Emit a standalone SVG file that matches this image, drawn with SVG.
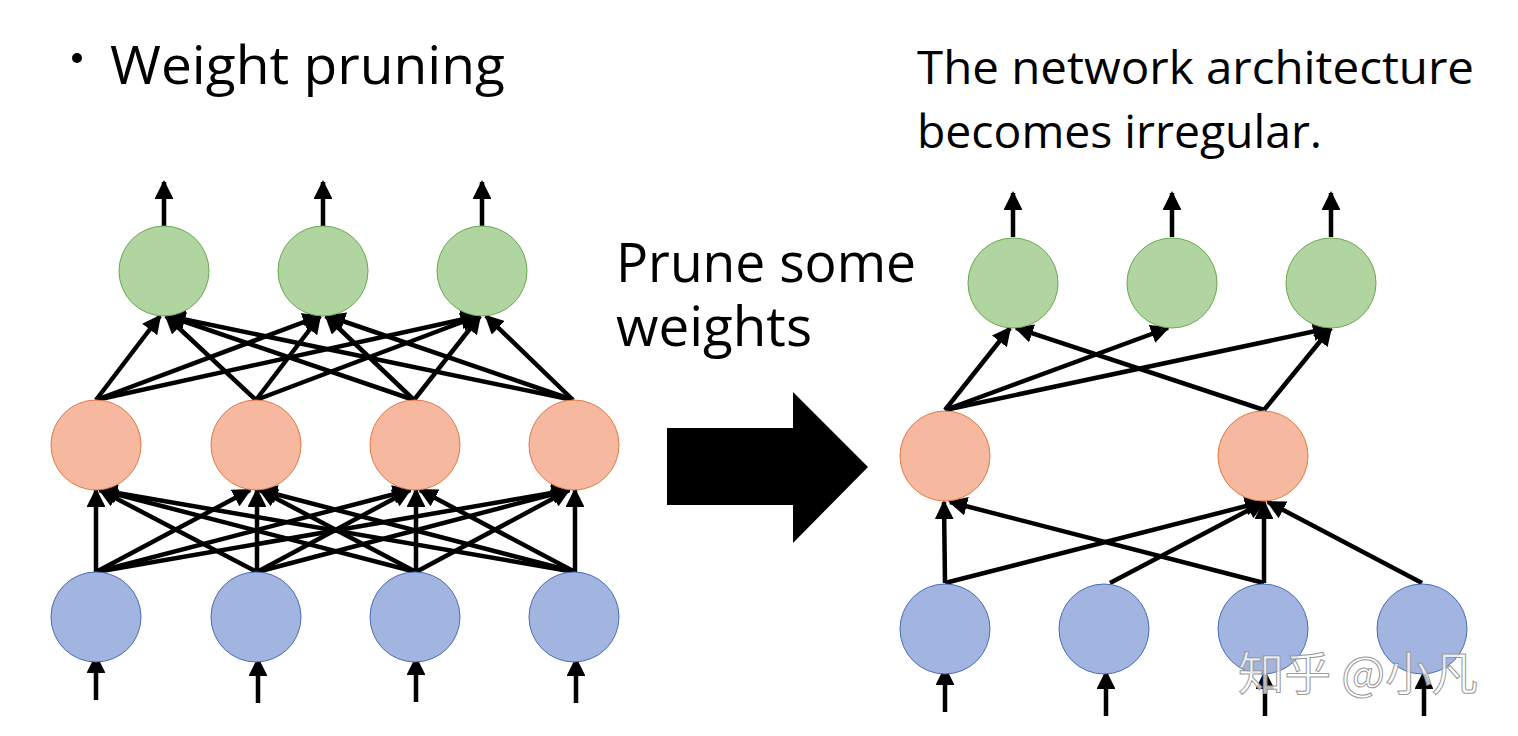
<svg xmlns="http://www.w3.org/2000/svg" width="1518" height="736" viewBox="0 0 1518 736">
<style>
.in{fill:#a2b4e0;stroke:#4a6db5;stroke-width:1}
.hid{fill:#f7b8a0;stroke:#e07a45;stroke-width:1}
.out{fill:#b0d5a0;stroke:#6aa84f;stroke-width:1}
.e{stroke:#000;stroke-width:4.5;fill:none;marker-end:url(#ah)}
.t{font-family:"Open Sans","Noto Sans",sans-serif;fill:#000}
</style>
<defs>
<marker id="ah" viewBox="0 0 10 10" refX="9" refY="5" markerWidth="4.2" markerHeight="4.2" orient="auto" markerUnits="strokeWidth">
<path d="M0,0 L10,5 L0,10 z" fill="#000"/>
</marker>
</defs>
<rect width="1518" height="736" fill="#fff"/>
<circle cx="77" cy="58" r="5" fill="#000"/>
<text class="t" x="110" y="84" font-size="53" textLength="395" lengthAdjust="spacingAndGlyphs">Weight pruning</text>
<text class="t" x="917" y="84" font-size="46" textLength="557" lengthAdjust="spacingAndGlyphs">The network architecture</text>
<text class="t" x="917" y="148" font-size="46" textLength="405" lengthAdjust="spacingAndGlyphs">becomes irregular.</text>
<text class="t" x="616" y="282" font-size="54" textLength="300" lengthAdjust="spacingAndGlyphs">Prune some</text>
<text class="t" x="616" y="346" font-size="54" textLength="196" lengthAdjust="spacingAndGlyphs">weights</text>
<polygon points="667,428 793,428 793,392 868,467 793,543 793,505 667,505" fill="#000"/>
<g id="connectors">
<line class="e" x1="164" y1="226" x2="164" y2="182"/>
<line class="e" x1="323" y1="226" x2="323" y2="182"/>
<line class="e" x1="482" y1="226" x2="482" y2="182"/>
<line class="e" x1="96" y1="700" x2="96" y2="656"/>
<line class="e" x1="258" y1="703" x2="258" y2="659"/>
<line class="e" x1="416" y1="702" x2="416" y2="658"/>
<line class="e" x1="576" y1="703" x2="576" y2="659"/>
<line class="e" x1="96" y1="572" x2="96" y2="490"/>
<line class="e" x1="96" y1="572" x2="250" y2="490"/>
<line class="e" x1="96" y1="572" x2="410" y2="490"/>
<line class="e" x1="96" y1="572" x2="569" y2="490"/>
<line class="e" x1="257" y1="572" x2="100" y2="490"/>
<line class="e" x1="257" y1="572" x2="257" y2="490"/>
<line class="e" x1="257" y1="572" x2="410" y2="490"/>
<line class="e" x1="257" y1="572" x2="569" y2="490"/>
<line class="e" x1="416" y1="572" x2="100" y2="490"/>
<line class="e" x1="416" y1="572" x2="260" y2="490"/>
<line class="e" x1="416" y1="572" x2="416" y2="490"/>
<line class="e" x1="416" y1="572" x2="569" y2="490"/>
<line class="e" x1="575" y1="572" x2="100" y2="490"/>
<line class="e" x1="575" y1="572" x2="260" y2="490"/>
<line class="e" x1="575" y1="572" x2="420" y2="490"/>
<line class="e" x1="575" y1="572" x2="575" y2="490"/>
<line class="e" x1="96" y1="400" x2="160" y2="316"/>
<line class="e" x1="96" y1="400" x2="320" y2="316"/>
<line class="e" x1="96" y1="400" x2="478" y2="316"/>
<line class="e" x1="256" y1="400" x2="166" y2="316"/>
<line class="e" x1="256" y1="400" x2="320" y2="316"/>
<line class="e" x1="256" y1="400" x2="478" y2="316"/>
<line class="e" x1="414" y1="400" x2="168" y2="316"/>
<line class="e" x1="414" y1="400" x2="326" y2="316"/>
<line class="e" x1="414" y1="400" x2="480" y2="316"/>
<line class="e" x1="573" y1="400" x2="168" y2="316"/>
<line class="e" x1="573" y1="400" x2="328" y2="316"/>
<line class="e" x1="573" y1="400" x2="486" y2="316"/>
<line class="e" x1="1013" y1="237" x2="1013" y2="193"/>
<line class="e" x1="1172" y1="237" x2="1172" y2="193"/>
<line class="e" x1="1331" y1="237" x2="1331" y2="193"/>
<line class="e" x1="945" y1="712" x2="945" y2="668"/>
<line class="e" x1="1106" y1="716" x2="1106" y2="672"/>
<line class="e" x1="1265" y1="716" x2="1265" y2="672"/>
<line class="e" x1="1424" y1="716" x2="1424" y2="672"/>
<line class="e" x1="945" y1="583" x2="944" y2="502"/>
<line class="e" x1="945" y1="583" x2="1262" y2="502"/>
<line class="e" x1="1110" y1="583" x2="1264" y2="502"/>
<line class="e" x1="1264" y1="583" x2="950" y2="502"/>
<line class="e" x1="1264" y1="583" x2="1264" y2="502"/>
<line class="e" x1="1422" y1="583" x2="1268" y2="502"/>
<line class="e" x1="945" y1="410" x2="1010" y2="328"/>
<line class="e" x1="945" y1="410" x2="1168" y2="328"/>
<line class="e" x1="945" y1="410" x2="1330" y2="328"/>
<line class="e" x1="1264" y1="410" x2="1016" y2="328"/>
<line class="e" x1="1264" y1="410" x2="1331" y2="328"/>
</g>
<g id="L_in1"><circle class="in" cx="96" cy="617" r="45"/></g>
<g id="L_in2"><circle class="in" cx="256" cy="617" r="45"/></g>
<g id="L_in3"><circle class="in" cx="415" cy="617" r="45"/></g>
<g id="L_in4"><circle class="in" cx="574" cy="617" r="45"/></g>
<g id="L_h1"><circle class="hid" cx="96" cy="445" r="45"/></g>
<g id="L_h2"><circle class="hid" cx="256" cy="445" r="45"/></g>
<g id="L_h3"><circle class="hid" cx="415" cy="445" r="45"/></g>
<g id="L_h4"><circle class="hid" cx="574" cy="445" r="45"/></g>
<g id="L_o1"><circle class="out" cx="164" cy="271" r="45"/></g>
<g id="L_o2"><circle class="out" cx="323" cy="271" r="45"/></g>
<g id="L_o3"><circle class="out" cx="482" cy="271" r="45"/></g>
<g id="R_in1"><circle class="in" cx="945" cy="629" r="45"/></g>
<g id="R_in2"><circle class="in" cx="1104" cy="629" r="45"/></g>
<g id="R_in3"><circle class="in" cx="1263" cy="629" r="45"/></g>
<g id="R_in4"><circle class="in" cx="1422" cy="629" r="45"/></g>
<g id="R_h1"><circle class="hid" cx="945" cy="456" r="45"/></g>
<g id="R_h2"><circle class="hid" cx="1263" cy="456" r="45"/></g>
<g id="R_o1"><circle class="out" cx="1013" cy="283" r="45"/></g>
<g id="R_o2"><circle class="out" cx="1172" cy="283" r="45"/></g>
<g id="R_o3"><circle class="out" cx="1331" cy="283" r="45"/></g>
<text x="1238" y="690" font-size="46" textLength="240" lengthAdjust="spacingAndGlyphs" fill="#ffffff" fill-opacity="0.75" stroke="#999" stroke-width="1" font-family="'Noto Sans CJK SC',sans-serif">知乎 @小凡</text>
</svg>
